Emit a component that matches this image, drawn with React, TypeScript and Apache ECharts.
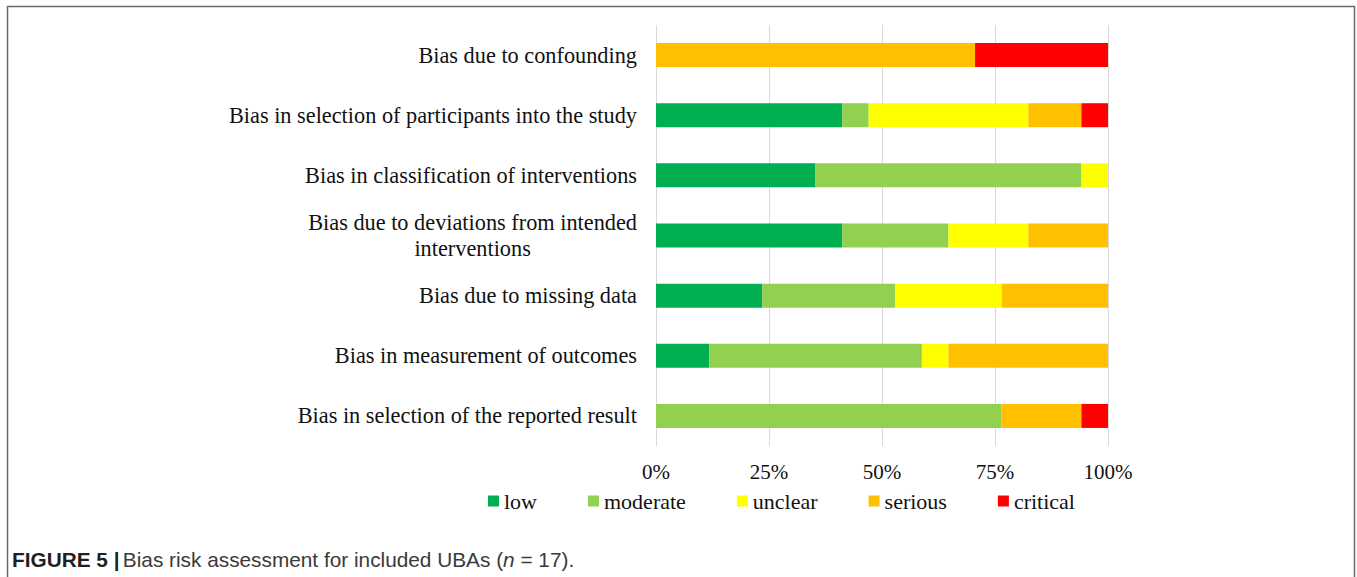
import React, { useEffect, useRef } from "react";
import * as echarts from "echarts";

const categories = [
  "Bias due to confounding",
  "Bias in selection of participants into the study",
  "Bias in classification of interventions",
  "Bias due to deviations from intended\ninterventions",
  "Bias due to missing data",
  "Bias in measurement of outcomes",
  "Bias in selection of the reported result",
];
const total = 17;
const low = [0, 7, 6, 7, 4, 2, 0];
const moderate = [0, 1, 10, 4, 5, 8, 13];
const unclear = [0, 6, 1, 3, 4, 1, 0];
const serious = [12, 2, 0, 3, 4, 6, 3];
const critical = [5, 1, 0, 0, 0, 0, 1];
const seriesNames = ["low", "moderate", "unclear", "serious", "critical"];
const seriesColors = ["#00B050", "#92D050", "#FFFF00", "#FFC000", "#FF0000"];
const xMin = 0;
const xMax = 100;
const xInterval = 25;

const SERIF = "'Liberation Serif', 'Times New Roman', serif";
const SANS = "'Liberation Sans', Arial, Helvetica, sans-serif";

export default function App() {
  const ref = useRef<HTMLDivElement>(null);
  useEffect(() => {
    if (!ref.current) return;
    const chart = echarts.init(ref.current, undefined, { renderer: "svg" });
    const counts = [low, moderate, unclear, serious, critical];
    const option: any = {
      animation: false,
      backgroundColor: "#ffffff",
      grid: { left: 656, right: 249, top: 25, bottom: 131, containLabel: false },
      xAxis: {
        type: "value",
        min: xMin,
        max: xMax,
        interval: xInterval,
        axisLine: { show: false },
        axisTick: { show: false },
        splitLine: { show: true, lineStyle: { color: "#d9d9d9", width: 1 } },
        axisLabel: {
          formatter: (v: number) => `${v}%`,
          fontFamily: SERIF,
          fontSize: 21,
          color: "#111",
          margin: 15,
        },
      },
      yAxis: {
        type: "category",
        inverse: true,
        data: categories,
        axisLine: { show: false },
        axisTick: { show: false },
        splitLine: { show: false },
        axisLabel: {
          margin: 19,
          align: "right",
          formatter: (v: string) =>
            v
              .split("\n")
              .map((l) => `{c|${l}}`)
              .join("\n"),
          rich: {
            c: {
              align: "center",
              fontFamily: SERIF,
              fontSize: 22.3,
              lineHeight: 26,
              color: "#111",
            },
          },
        },
      },
      legend: {
        left: 488,
        top: 490,
        padding: 0,
        itemWidth: 11,
        itemHeight: 11,
        itemGap: 51,
        icon: "rect",
        textStyle: { fontFamily: SERIF, fontSize: 22, color: "#111", padding: [0, 0, 0, 0] },
        data: seriesNames,
      },
      series: seriesNames.map((name, i) => ({
        name,
        type: "bar",
        stack: "total",
        barWidth: 24,
        itemStyle: { color: seriesColors[i] },
        data: counts[i].map((c) => (c / total) * 100),
      })),
      graphic: [
        {
          type: "polyline",
          shape: {
            points: [
              [7.5, 577],
              [7.5, 6.5],
              [1354.5, 6.5],
              [1354.5, 577],
            ],
          },
          style: { stroke: "#6a6a6a", lineWidth: 1.5, fill: "none" },
          silent: true,
        },
        {
          type: "text",
          left: 12,
          top: 549,
          style: {
            text: "{b|FIGURE 5 |} {n|Bias risk assessment for included UBAs (}{i|n}{n| = 17).}",
            rich: {
              b: { fontFamily: SANS, fontSize: 20.8, fontWeight: "bold", fill: "#231f20" },
              n: { fontFamily: SANS, fontSize: 20.8, fill: "#3a3a3a" },
              i: { fontFamily: SANS, fontSize: 20.8, fontStyle: "italic", fill: "#3a3a3a" },
            },
          },
        },
      ],
    };
    chart.setOption(option);
    return () => chart.dispose();
  }, []);
  return (
    <div
      ref={ref}
      style={{ position: "fixed", left: 0, top: 0, width: 1357, height: 577 }}
    />
  );
}
